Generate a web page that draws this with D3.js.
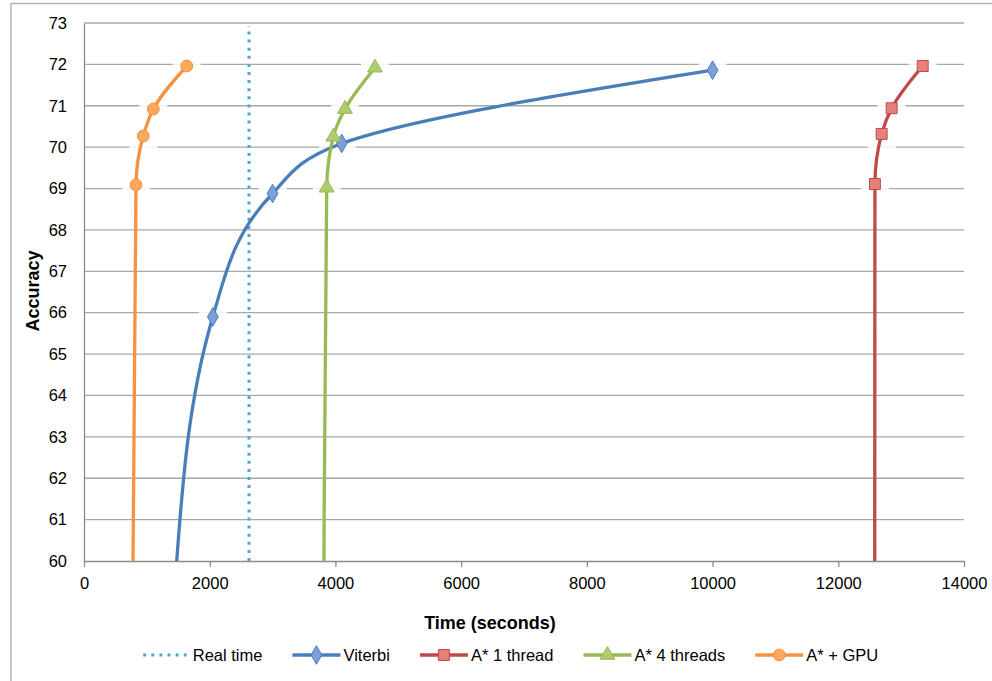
<!DOCTYPE html>
<html>
<head>
<meta charset="utf-8">
<script src="https://cdn.jsdelivr.net/npm/d3@7/dist/d3.min.js"></script>
<style>
  html, body { margin: 0; padding: 0; background: #fff; }
  svg { display: block; font-family: "Liberation Sans", Arial, sans-serif; }
</style>
</head>
<body>
<svg id="chart" width="992" height="681"></svg>
<script>
// ---------------- data ----------------
const xTicks = [0, 2000, 4000, 6000, 8000, 10000, 12000, 14000];
const yTicks = [60, 61, 62, 63, 64, 65, 66, 67, 68, 69, 70, 71, 72, 73];

const realTime = [2625];

// first point of each series is where the curve enters the axis bottom (no marker)
const viterbiTime = [1475, 2050, 3000, 4100, 10000];
const viterbiAcc  = [60, 65.9, 68.88, 70.09, 71.86];

const astar1Time = [12580, 12583, 12690, 12849, 13343];
const astar1Acc  = [60, 69.11, 70.32, 70.94, 71.96];

const astar4Time = [3818, 3861, 3966, 4152, 4629];
const astar4Acc  = [60, 69.02, 70.25, 70.92, 71.92];

const gpuTime = [780, 827, 943, 1102, 1634];
const gpuAcc  = [60, 69.09, 70.27, 70.92, 71.96];

const seriesNames = ["Real time", "Viterbi", "A* 1 thread", "A* 4 threads", "A* + GPU"];

// ---------------- setup ----------------
const svg = d3.select("#chart");
const L = 84, R = 964, T = 23, B = 561;
const x = d3.scaleLinear().domain([0, 14000]).range([L, R]);
const y = d3.scaleLinear().domain([60, 73]).range([B, T]);

// outer chart border
svg.append("rect").attr("x", 11).attr("y", 3.5).attr("width", 1000).attr("height", 700)
  .attr("fill", "none").attr("stroke", "#b3b3b3").attr("stroke-width", 1.5);

// gridlines
svg.append("g").selectAll("line").data(yTicks.slice(1)).join("line")
  .attr("x1", L).attr("x2", R).attr("y1", d => y(d)).attr("y2", d => y(d))
  .attr("stroke", "#a8a8a8").attr("stroke-width", 1.3);

// y axis
const yAxis = svg.append("g").attr("transform", `translate(${L},0)`)
  .call(d3.axisLeft(y).tickValues(yTicks).tickSize(0).tickPadding(17).tickFormat(d3.format("d")));
yAxis.select(".domain").attr("stroke", "#8c8c8c").attr("stroke-width", 1.3);
yAxis.selectAll("text").attr("font-size", 16.5).attr("fill", "#000")
  .attr("font-family", "'Liberation Sans', Arial, sans-serif");

// x axis
const xAxis = svg.append("g").attr("transform", `translate(0,${B})`)
  .call(d3.axisBottom(x).tickValues(xTicks).tickSize(6).tickPadding(10).tickSizeOuter(0).tickFormat(d3.format("d")));
xAxis.select(".domain").attr("stroke", "#8c8c8c").attr("stroke-width", 1.3);
xAxis.selectAll(".tick line").attr("stroke", "#8c8c8c").attr("stroke-width", 1.3);
xAxis.selectAll("text").attr("font-size", 16.5).attr("fill", "#000")
  .attr("font-family", "'Liberation Sans', Arial, sans-serif");

// axis titles
svg.append("text").attr("x", 490).attr("y", 629).attr("text-anchor", "middle")
  .attr("font-size", 18).attr("font-weight", "bold").text("Time (seconds)");
svg.append("text").attr("transform", "translate(39,291) rotate(-90)").attr("text-anchor", "middle")
  .attr("font-size", 18).attr("font-weight", "bold").text("Accuracy");

// clip
svg.append("clipPath").attr("id", "plot").append("rect")
  .attr("x", L).attr("y", T - 10).attr("width", R - L).attr("height", B - T + 10);

const zip = (xs, ys) => xs.map((v, i) => ({ t: v, a: ys[i] }));
const series = [
  { name: seriesNames[1], data: zip(viterbiTime, viterbiAcc), line: "#4a7ebb", fill: "#7c9fd8", stroke: "#4a7ebb", shape: d3.symbolDiamond, size: 100 },
  { name: seriesNames[2], data: zip(astar1Time, astar1Acc), line: "#be4b48", fill: "#e6807d", stroke: "#be4b48", shape: d3.symbolSquare, size: 120 },
  { name: seriesNames[3], data: zip(astar4Time, astar4Acc), line: "#98b954", fill: "#aecd6e", stroke: "#98b954", shape: d3.symbolTriangle, size: 95 },
  { name: seriesNames[4], data: zip(gpuTime, gpuAcc), line: "#f69240", fill: "#f9a85e", stroke: "#f69240", shape: d3.symbolCircle, size: 110 }
];

const plot = svg.append("g").attr("clip-path", "url(#plot)");

// faint boxes behind markers (soften gridlines like the reference)
series.forEach(s => {
  plot.append("g").selectAll("rect").data(s.data.filter(d => d.a > 60)).join("rect")
    .attr("x", d => x(d.t) - 14).attr("y", d => y(d.a) - 20)
    .attr("width", 28).attr("height", 40).attr("fill", "#fff").attr("fill-opacity", 0.85);
});

// real time line
plot.append("g").selectAll("line").data(realTime).join("line")
  .attr("x1", d => x(d)).attr("x2", d => x(d)).attr("y1", y(60)).attr("y2", y(73) + 3)
  .attr("stroke", "#4bacc6").attr("stroke-width", 3).attr("stroke-dasharray", "3,5.1");

const lineGen = d3.line().x(d => x(d.t)).y(d => y(d.a)).curve(d3.curveMonotoneY);

series.forEach(s => {
  plot.append("path").datum(s.data).attr("d", lineGen)
    .attr("fill", "none").attr("stroke", s.line).attr("stroke-width", 3.3)
    .attr("stroke-linejoin", "round");
  plot.append("g").selectAll("path").data(s.data.filter(d => d.a > 60)).join("path")
    .attr("transform", d => `translate(${x(d.t)},${y(d.a)})`)
    .attr("d", d3.symbol().type(s.shape).size(s.size))
    .attr("fill", s.fill).attr("stroke", s.stroke).attr("stroke-width", 1);
});

// ---------------- legend ----------------
const legend = svg.append("g");
const items = [
  { name: seriesNames[0], dotted: true, line: "#4bacc6" },
  ...series
];
let cx = 0;
const positions = [];
items.forEach(it => {
  const g = legend.append("g");
  if (it.dotted) {
    g.append("line").attr("x1", 1.5).attr("x2", 47).attr("y1", 0).attr("y2", 0)
      .attr("stroke", it.line).attr("stroke-width", 3).attr("stroke-dasharray", "3,5.1");
  } else {
    g.append("line").attr("x1", 0).attr("x2", 48).attr("y1", 0).attr("y2", 0)
      .attr("stroke", it.line).attr("stroke-width", 3.3);
    g.append("path").attr("transform", "translate(24,0)")
      .attr("d", d3.symbol().type(it.shape).size(it.size))
      .attr("fill", it.fill).attr("stroke", it.stroke).attr("stroke-width", 1);
  }
  const tx = g.append("text").attr("x", 51).attr("y", 6).attr("font-size", 16.5)
    .attr("fill", "#000").text(it.name);
  const w = 51 + tx.node().getComputedTextLength();
  positions.push({ g, start: cx });
  cx += w + 30;
});
const total = cx - 30;
const startX = 510 - total / 2;
positions.forEach(p => p.g.attr("transform", `translate(${startX + p.start},655)`));
</script>
</body>
</html>
